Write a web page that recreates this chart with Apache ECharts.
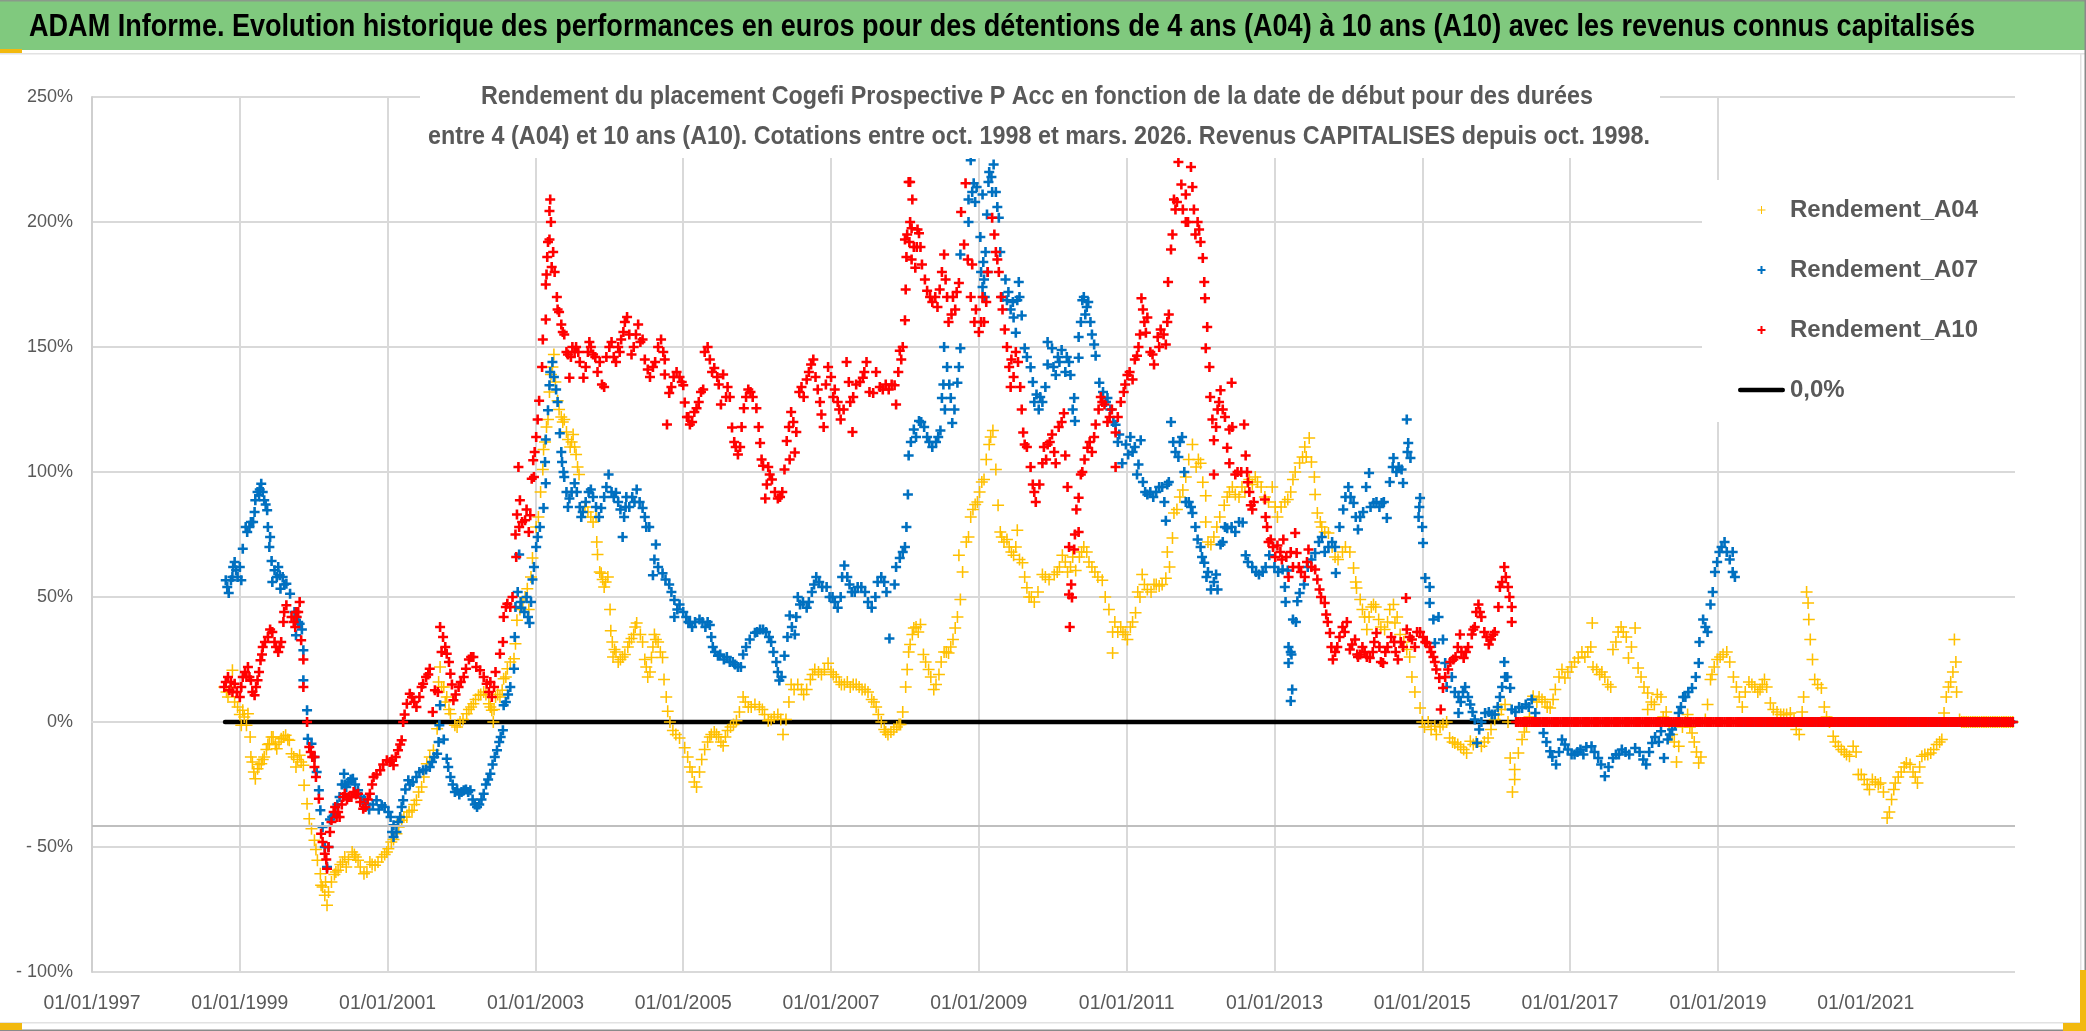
<!DOCTYPE html>
<html><head><meta charset="utf-8"><style>html,body{margin:0;padding:0;background:#fff}#c{width:2086px;height:1031px}</style>
<script src="https://cdn.jsdelivr.net/npm/echarts@6/dist/echarts.min.js"></script></head><body><div id="c"></div>
<script>
const tickYears=[1997,1999,2001,2003,2005,2007,2009,2011,2013,2015,2017,2019,2021];
const a04=[[1998.79,14],[1998.84,10],[1998.9,20.7],[1998.97,6],[1999.04,4.7],[1999.02,-1.3],[1999.11,3.3],[1999.09,-1.3],[1999.14,-6],[1999.15,-14],[1999.21,-22.7],[1999.24,-18.7],[1999.29,-16.7],[1999.33,-14],[1999.4,-8.7],[1999.45,-6],[1999.5,-10.7],[1999.56,-6.7],[1999.62,-5.3],[1999.67,-7.3],[1999.7,-12.7],[1999.76,-18],[1999.81,-13.3],[1999.86,-17.3],[1999.87,-25.3],[1999.91,-32.7],[1999.94,-38.7],[1999.97,-42.7],[2000.01,-47.3],[2000.05,-55.3],[2000.09,-60.7],[2000.1,-65.3],[2000.15,-69.3],[2000.18,-73.3],[2000.24,-64],[2000.33,-59.3],[2000.42,-54],[2000.44,-58],[2000.52,-52],[2000.6,-55.3],[2000.68,-60.7],[2000.76,-56],[2000.83,-57.3],[2000.92,-54],[2001.01,-50.7],[2001.05,-48],[2001.12,-44.7],[2001.19,-39.3],[2001.26,-38],[2001.33,-35.3],[2001.39,-31.3],[2001.46,-26],[2001.53,-16.7],[2001.62,-11.3],[2001.67,-2.7],[2001.71,22],[2001.76,14],[2001.8,10],[2001.85,3.3],[2001.91,-1.3],[2001.98,0],[2002.07,3.3],[2002.16,7.3],[2002.23,10.7],[2002.3,12],[2002.37,7.3],[2002.41,4.7],[2002.43,0],[2002.46,10],[2002.55,12.7],[2002.57,17.3],[2002.62,21.3],[2002.71,25.3],[2002.73,31.3],[2002.75,40.7],[2002.89,53.3],[2002.94,58],[2002.96,65.6],[2003.01,78],[2003.1,101],[2003.11,109],[2003.17,121],[2003.21,139],[2003.25,147],[2003.3,128.5],[2003.35,122],[2003.39,121],[2003.44,113],[2003.51,115],[2003.55,107],[2003.59,99],[2003.71,84],[2003.82,82],[2003.83,72],[2003.84,67],[2003.89,59.5],[2003.98,58],[2003.93,54],[2004.01,45],[2004.02,36.5],[2004.07,29],[2004.12,24],[2004.21,27],[2004.3,33.4],[2004.37,39.6],[2004.45,32],[2004.48,25],[2004.52,18],[2004.57,25.8],[2004.61,35],[2004.66,32],[2004.72,25.8],[2004.74,17],[2004.79,4.3],[2004.86,-3.4],[2004.95,-6.4],[2005.02,-10.3],[2005.06,-14],[2005.12,-20],[2005.18,-26],[2005.29,-11],[2005.38,-5],[2005.45,-5],[2005.54,-9.5],[2005.6,-3.4],[2005.72,0.5],[2005.81,10],[2005.88,6],[2006.03,6],[2006.15,0.5],[2006.28,3],[2006.35,-5],[2006.39,1],[2006.46,15],[2006.55,15],[2006.67,13],[2006.78,21],[2006.87,19],[2006.96,23.5],[2007.07,18],[2007.18,15],[2007.34,15],[2007.5,12],[2007.61,6],[2007.68,0],[2007.77,-5],[2007.89,-2],[2007.94,-1],[2008.01,14],[2008.03,21],[2008.07,31],[2008.12,37.6],[2008.21,39],[2008.25,27],[2008.32,21],[2008.39,13],[2008.46,19],[2008.53,28],[2008.59,27.6],[2008.68,37.6],[2008.75,49],[2008.73,66.7],[2008.86,74],[2008.89,82],[2008.98,88],[2009.07,97],[2009.14,111],[2009.19,116.6],[2009.23,101],[2009.26,86.7],[2009.29,76],[2009.38,73],[2009.52,76.7],[2009.47,66.7],[2009.59,63.7],[2009.65,53.7],[2009.75,48],[2009.86,59],[2010.02,59],[2010.13,66.7],[2010.31,60.6],[2010.42,70],[2010.53,62],[2010.67,56.7],[2010.76,45],[2010.81,36],[2010.81,27.6],[2010.92,38],[2011.01,33],[2011.12,43.7],[2011.21,59],[2011.28,53],[2011.44,54.4],[2011.53,57.5],[2011.55,68],[2011.62,73.6],[2011.64,83.6],[2011.76,92.8],[2011.89,111],[2012,103.5],[2012.03,95.9],[2012.07,90.5],[2012.07,80],[2012.14,71],[2012.18,74],[2012.32,86.7],[2012.43,94],[2012.47,91],[2012.66,97],[2012.77,96],[2012.97,94],[2013.09,86],[2013.18,89],[2013.25,97],[2013.34,103.6],[2013.43,106],[2013.47,113.6],[2013.5,104],[2013.54,98],[2013.55,91],[2013.58,83.6],[2013.64,78],[2013.73,75.6],[2013.86,65],[2014.02,68],[2014.07,61.6],[2014.11,53.6],[2014.16,49],[2014.22,42],[2014.25,37],[2014.34,47],[2014.41,41],[2014.49,37],[2014.61,47],[2014.63,39.6],[2014.7,35],[2014.79,29],[2014.83,26],[2014.86,18],[2014.9,12],[2014.97,5.6],[2015,0],[2015.17,-1.7],[2015.19,-5],[2015.33,0],[2015.37,-6.4],[2015.44,-8.4],[2015.6,-12.4],[2015.65,-7.7],[2015.8,-9.7],[2015.89,-6.4],[2015.98,1],[2016.12,7],[2016.16,0],[2016.19,-14.4],[2016.25,-19],[2016.25,-23],[2016.22,-28],[2016.3,-12.4],[2016.35,-7],[2016.41,-1.7],[2016.5,10.3],[2016.62,9],[2016.73,5.6],[2016.8,13],[2016.89,21],[2016.93,17.6],[2017.11,25.6],[2017.28,30],[2017.3,39.6],[2017.31,22],[2017.43,20],[2017.55,14],[2017.58,29],[2017.69,38],[2017.76,34],[2017.88,37.6],[2017.79,25.6],[2017.92,21.6],[2018.05,11.6],[2018.05,5],[2018.23,10],[2018.26,2],[2018.47,-9.7],[2018.44,-16],[2018.59,3],[2018.65,-4.4],[2018.74,-16.4],[2018.86,7],[2018.83,1],[2018.9,17],[2018.99,25],[2019.12,28],[2019.21,18],[2019.33,6],[2019.42,16],[2019.57,13],[2019.63,17],[2019.71,7.6],[2019.89,3],[2019.98,3.6],[2020.1,-5],[2020.16,10],[2020.2,52],[2020.22,47.6],[2020.23,41],[2020.25,33],[2020.28,25],[2020.31,17],[2020.4,13.6],[2020.44,6],[2020.51,0],[2020.56,-5.7],[2020.63,-9.7],[2020.78,-13.7],[2020.83,-9.7],[2020.9,-21],[2021.05,-27],[2021.2,-24.4],[2021.29,-38.4],[2021.35,-31],[2021.4,-24.4],[2021.55,-16.4],[2021.7,-24.4],[2021.76,-13.7],[2021.88,-12.4],[2022.03,-7],[2022.06,3.6],[2022.09,10],[2022.18,20],[2022.2,33],[2022.23,12],[2022.27,1]];
const a04More=[[1998.82,12],[1998.87,14],[1998.93,8],[1999,3],[1999.06,2],[1999.17,-16],[1999.19,-20],[1999.26,-17],[1999.31,-15],[1999.36,-11],[1999.38,-9],[1999.43,-6],[1999.48,-9],[1999.53,-8],[1999.59,-6],[1999.65,-7],[1999.73,-14],[1999.78,-15],[1999.83,-16],[2000.03,-51],[2000.12,-66],[2000.16,-64],[2000.2,-68],[2000.28,-61],[2000.3,-60],[2000.36,-57],[2000.39,-56],[2000.47,-55],[2000.55,-53],[2000.57,-54],[2000.63,-58],[2000.72,-60],[2000.79,-57],[2000.87,-56],[2000.96,-53],[2000.99,-52],[2001.08,-47],[2001.15,-42],[2001.22,-38],[2001.29,-36],[2001.36,-33],[2001.42,-28],[2001.49,-22],[2001.57,-14],[2001.69,16],[2001.73,14],[2001.78,8],[2001.83,5],[2001.94,-2],[2002.02,1],[2002.1,5],[2002.13,6],[2002.19,9],[2002.26,11],[2002.33,11],[2002.39,6],[2002.44,5],[2002.49,11],[2002.52,10],[2002.6,18],[2002.66,24],[2002.79,45],[2002.83,48],[2002.86,50],[2002.91,45],[2003.04,82],[2003.07,92],[2003.13,112],[2003.15,118],[2003.19,132],[2003.23,142],[2003.27,136],[2003.32,125],[2003.37,120],[2003.42,116],[2003.47,110],[2003.49,112],[2003.53,110],[2003.57,102],[2003.67,86],[2003.75,82],[2003.78,80],[2003.87,60],[2003.91,57],[2003.95,56],[2004.04,32],[2004.05,26],[2004.09,28],[2004.15,25],[2004.18,26],[2004.25,30],[2004.27,32],[2004.33,35],[2004.35,38],[2004.42,35],[2004.5,22],[2004.55,20],[2004.59,30],[2004.63,33],[2004.69,28],[2004.77,10],[2004.82,0],[2004.9,-5],[2005.09,-18],[2005.15,-24],[2005.22,-20],[2005.25,-15],[2005.33,-8],[2005.36,-6],[2005.42,-4],[2005.48,-6],[2005.51,-8],[2005.57,-6],[2005.64,-2],[2005.68,-1],[2005.76,4],[2005.84,8],[2005.92,6],[2005.97,7],[2006.07,5],[2006.1,3],[2006.19,1],[2006.23,2],[2006.32,1],[2006.43,8],[2006.5,13],[2006.6,13],[2006.63,11],[2006.72,17],[2006.75,19],[2006.83,20],[2006.91,21],[2007,20],[2007.03,19],[2007.11,16],[2007.14,15],[2007.22,16],[2007.26,14],[2007.3,15],[2007.38,14],[2007.42,13],[2007.46,13],[2007.55,9],[2007.58,8],[2007.64,3],[2007.72,-3],[2007.74,-4],[2007.81,-4],[2007.85,-3],[2007.92,-1],[2007.97,4],[2008.05,28],[2008.1,35],[2008.15,38],[2008.18,36],[2008.28,24],[2008.35,18],[2008.42,15],[2008.49,24],[2008.56,28],[2008.62,30],[2008.65,33],[2008.71,42],[2008.78,60],[2008.83,72],[2008.92,85],[2008.95,87],[2009.01,92],[2009.04,96],[2009.1,105],[2009.16,114],[2009.31,74],[2009.34,72],[2009.41,70],[2009.44,68],[2009.5,70],[2009.55,65],[2009.62,58],[2009.68,50],[2009.71,50],[2009.8,52],[2009.9,58],[2009.95,57],[2010.06,60],[2010.09,62],[2010.17,64],[2010.2,60],[2010.24,62],[2010.27,66],[2010.36,66],[2010.39,68],[2010.46,68],[2010.49,64],[2010.57,60],[2010.61,58],[2010.71,50],[2010.84,40],[2010.88,36],[2010.95,36],[2010.98,35],[2011.05,38],[2011.08,40],[2011.15,52],[2011.18,50],[2011.24,55],[2011.33,52],[2011.37,55],[2011.4,55],[2011.48,55],[2011.58,62],[2011.68,85],[2011.72,90],[2011.8,98],[2011.84,105],[2011.94,102],[2011.97,105],[2012.1,72],[2012.22,78],[2012.26,82],[2012.36,90],[2012.39,92],[2012.52,90],[2012.56,94],[2012.6,92],[2012.7,95],[2012.74,98],[2012.82,94],[2012.87,90],[2012.92,88],[2013.01,86],[2013.04,82],[2013.14,88],[2013.22,92],[2013.28,100],[2013.38,106],[2013.41,110],[2013.62,80],[2013.68,76],[2013.78,70],[2013.82,66],[2013.92,68],[2013.96,70],[2014.1,56],[2014.19,45],[2014.28,42],[2014.31,46],[2014.37,46],[2014.44,38],[2014.53,40],[2014.56,45],[2014.66,42],[2014.75,32],[2015.03,-2],[2015.08,0],[2015.12,-3],[2015.24,-2],[2015.28,-1],[2015.41,-8],[2015.48,-9],[2015.52,-10],[2015.56,-11],[2015.69,-9],[2015.73,-8],[2015.84,-8],[2015.93,-3],[2016.03,3],[2016.07,5],[2016.38,-4],[2016.45,2],[2016.55,8],[2016.58,10],[2016.66,8],[2016.69,6],[2016.77,9],[2016.85,18],[2016.97,20],[2017.02,22],[2017.06,24],[2017.16,28],[2017.2,26],[2017.24,28],[2017.36,21],[2017.4,19],[2017.47,18],[2017.51,15],[2017.62,32],[2017.65,36],[2017.72,36],[2017.83,30],[2017.96,18],[2018,14],[2018.1,8],[2018.14,7],[2018.18,11],[2018.3,4],[2018.34,-1],[2018.38,-5],[2018.41,-8],[2018.52,-2],[2018.56,0],[2018.62,-2],[2018.68,-8],[2018.71,-12],[2018.77,-14],[2018.92,19],[2018.95,22],[2019.03,26],[2019.07,27],[2019.16,24],[2019.25,14],[2019.29,10],[2019.37,12],[2019.46,15],[2019.5,14],[2019.54,12],[2019.6,15],[2019.66,14],[2019.75,5],[2019.8,4],[2019.85,3],[2019.93,3],[2020.03,1],[2020.06,-3],[2020.14,4],[2020.35,15],[2020.47,2],[2020.59,-8],[2020.67,-11],[2020.71,-12],[2020.74,-13],[2020.87,-12],[2020.94,-21],[2020.98,-23],[2021.02,-25],[2021.09,-23],[2021.13,-24],[2021.17,-25],[2021.24,-28],[2021.32,-36],[2021.38,-27],[2021.44,-22],[2021.48,-20],[2021.52,-18],[2021.6,-17],[2021.64,-20],[2021.67,-22],[2021.73,-18],[2021.8,-13],[2021.84,-13],[2021.92,-11],[2021.96,-9],[2022,-8],[2022.12,14],[2022.15,16],[2022.22,24]];
const a07=[[1998.81,56.7],[1998.85,51.6],[1998.88,56.7],[1998.91,62],[1998.95,60.7],[1999,62],[1999.02,56.7],[1999.04,69.3],[1999.08,78],[1999.13,78],[1999.18,80],[1999.21,88.7],[1999.26,90.7],[1999.29,95.3],[1999.33,88.7],[1999.37,84.7],[1999.38,78],[1999.41,74],[1999.4,70],[1999.43,64.4],[1999.47,60.7],[1999.44,56],[1999.54,58.7],[1999.58,58],[1999.55,53.3],[1999.63,55.3],[1999.68,51.3],[1999.76,42],[1999.81,39.3],[1999.76,34.7],[1999.86,28.7],[1999.86,16.7],[1999.91,4.7],[1999.92,-6.7],[1999.97,-8.7],[2000.01,-14],[2000.07,-27.3],[2000.09,-35.3],[2000.12,-42],[2000.15,-50],[2000.18,-58],[2000.22,-39],[2000.29,-36.7],[2000.35,-30],[2000.41,-20.7],[2000.44,-26],[2000.53,-22.7],[2000.6,-27.3],[2000.71,-32.7],[2000.85,-31.3],[2000.92,-33.3],[2001.01,-36],[2001.08,-41.3],[2001.08,-46],[2001.17,-38],[2001.21,-31.3],[2001.28,-23.3],[2001.39,-22],[2001.48,-19.3],[2001.57,-18],[2001.67,-12.7],[2001.69,-8],[2001.76,-7],[2001.7,-1.3],[2001.71,6.7],[2001.8,-14.7],[2001.85,-22],[2001.91,-28],[2002.03,-27.3],[2002.12,-27.3],[2002.21,-34],[2002.3,-28.7],[2002.39,-20.7],[2002.48,-11.3],[2002.56,-3.3],[2002.57,6.7],[2002.66,14],[2002.71,21.3],[2002.72,34],[2002.81,45.7],[2002.78,67],[2002.92,39.6],[2002.96,57],[2003.01,70],[2003.03,74],[2003.11,85.6],[2003.14,95.5],[2003.14,113],[2003.17,124.7],[2003.19,134.7],[2003.23,144],[2003.28,133],[2003.33,115.5],[2003.36,104],[2003.39,98],[2003.46,89.4],[2003.53,95.5],[2003.64,84],[2003.75,93],[2003.89,85.6],[2003.99,99],[2004.09,91.7],[2004.18,74],[2004.23,90],[2004.37,93],[2004.45,85.6],[2004.54,78],[2004.63,71],[2004.61,65],[2004.59,58.7],[2004.72,59.5],[2004.81,55],[2004.88,48.8],[2004.88,42],[2005,44],[2005.09,39.6],[2005.22,41],[2005.36,38.8],[2005.4,30],[2005.47,26.5],[2005.63,24],[2005.74,22],[2005.85,30],[2005.97,35.7],[2006.08,37],[2006.19,32],[2006.26,24],[2006.3,16.6],[2006.37,26.5],[2006.44,42.6],[2006.51,35],[2006.55,50],[2006.67,45.7],[2006.8,58],[2006.94,54],[2007.09,45.7],[2007.18,62.6],[2007.28,52],[2007.41,54],[2007.55,45.7],[2007.68,58],[2007.75,52],[2007.79,33.4],[2007.86,55],[2007.93,65.6],[2008,70],[2008.02,78],[2008.04,91],[2008.05,106.6],[2008.12,117],[2008.19,120.4],[2008.26,118],[2008.37,110],[2008.48,116.6],[2008.5,129.6],[2008.53,150],[2008.57,142],[2008.62,129.6],[2008.64,119.6],[2008.71,135.7],[2008.75,149.5],[2008.75,187],[2008.86,200],[2008.86,209],[2008.93,215.5],[2008.89,224.7],[2009.05,211],[2009.14,220],[2009.2,223],[2009.23,212],[2009.11,203],[2009.02,194],[2009.09,188],[2009.27,201.7],[2009.29,188],[2009.07,177],[2009.36,177],[2009.54,176],[2009.38,168.7],[2009.52,168.7],[2009.47,161.8],[2009.58,162.6],[2009.5,155.7],[2009.62,149.5],[2009.7,141.9],[2009.78,131],[2009.81,125],[2009.9,134],[2009.93,152],[2009.99,149.5],[2009.93,143],[2010.04,138.8],[2010.12,148.8],[2010.22,144],[2010.24,138.8],[2010.29,129.6],[2010.3,120.4],[2010.35,154],[2010.35,145.7],[2010.56,151],[2010.58,146.5],[2010.4,168.7],[2010.44,163],[2010.51,160],[2010.63,135.7],[2010.74,129.6],[2010.85,118.9],[2010.99,111],[2010.94,103.5],[2011.05,114],[2011.19,112.7],[2011.14,99],[2011.28,91],[2011.44,94],[2011.57,96],[2011.53,80.5],[2011.6,120],[2011.66,108],[2011.75,114],[2011.8,88],[2011.89,83.6],[2011.96,73],[2012.05,63.7],[2012.14,53],[2012.23,53],[2012.27,71],[2012.36,77.5],[2012.57,79.8],[2012.61,66.7],[2012.79,59],[2012.93,66.7],[2013.11,61],[2013.18,60.6],[2013.15,48],[2013.31,48.3],[2013.29,40],[2013.22,28],[2013.22,8.4],[2013.24,13],[2013.14,54],[2013.25,41],[2013.19,30],[2013.23,27],[2013.19,23.6],[2013.34,51.6],[2013.55,67.6],[2013.64,74],[2013.73,70],[2013.82,70],[2013.83,59.6],[2013.88,78],[2013.93,85],[2014,94],[2014.07,87.6],[2014.13,77],[2014.2,84],[2014.28,99.6],[2014.34,87.6],[2014.45,87.6],[2014.52,81.6],[2014.56,96],[2014.61,105.6],[2014.72,101],[2014.74,95.6],[2014.79,121],[2014.81,111.6],[2014.84,105.6],[2014.97,89.6],[2014.95,82],[2015.01,71.6],[2015.04,57.6],[2015.1,54],[2015.1,47.6],[2015.15,41],[2015.22,42],[2015.17,31.6],[2015.28,33],[2015.31,23.6],[2015.4,18],[2015.33,14],[2015.49,10],[2015.58,14],[2015.49,3.6],[2015.65,7],[2015.71,1],[2015.74,-8.4],[2015.85,3.6],[2015.98,3],[2016.05,10],[2016.11,24],[2016.12,18],[2016.19,13.6],[2016.21,5],[2016.35,5.6],[2016.48,9],[2016.53,3.6],[2016.64,-4.4],[2016.73,-11.7],[2016.81,-17],[2016.89,-7],[2017.02,-13],[2017.14,-11],[2017.29,-9.7],[2017.38,-14.4],[2017.47,-21.7],[2017.58,-14.4],[2017.7,-11],[2017.88,-10.4],[2018.03,-17],[2018.11,-8.4],[2018.23,-3.7],[2018.27,-14.4],[2018.38,-3],[2018.47,3.6],[2018.53,10],[2018.65,13.6],[2018.74,23.6],[2018.75,32],[2018.86,36],[2018.8,41],[2018.9,47],[2018.96,60],[2019.02,68],[2019.09,72],[2019.16,65],[2019.23,58]];
const a07More=[[1998.83,54],[1998.9,58],[1998.93,64],[1998.97,58],[1999.1,76],[1999.15,80],[1999.2,84],[1999.24,92],[1999.27,93],[1999.31,92],[1999.35,87],[1999.5,58],[1999.52,62],[1999.6,55],[1999.79,40],[1999.74,44],[1999.84,37],[2000.04,-20],[2000.2,-50],[2000.25,-38],[2000.32,-33],[2000.38,-25],[2000.42,-25],[2000.47,-24],[2000.5,-23],[2000.56,-25],[2000.64,-30],[2000.68,-31],[2000.75,-35],[2000.8,-33],[2000.88,-35],[2000.96,-34],[2001.04,-38],[2001.06,-44],[2001.12,-44],[2001.14,-40],[2001.19,-34],[2001.24,-27],[2001.3,-25],[2001.34,-24],[2001.43,-20],[2001.52,-19],[2001.6,-16],[2001.63,-14],[2001.82,-18],[2001.88,-25],[2001.94,-27],[2001.97,-29],[2002,-28],[2002.06,-27],[2002.09,-28],[2002.15,-31],[2002.18,-33],[2002.24,-33],[2002.27,-31],[2002.33,-25],[2002.36,-23],[2002.42,-17],[2002.45,-14],[2002.51,-8],[2002.53,-6],[2002.6,8],[2002.63,11],[2002.73,46],[2002.76,52],[2002.8,48],[2002.85,44],[2002.88,50],[2002.9,42],[2002.94,48],[2002.98,62],[2003.06,78],[2003.13,104],[2003.2,140],[2003.25,138],[2003.3,128],[2003.35,108],[2003.38,100],[2003.42,92],[2003.44,86],[2003.49,92],[2003.56,92],[2003.6,86],[2003.62,82],[2003.68,88],[2003.72,92],[2003.78,90],[2003.82,86],[2003.86,82],[2003.93,90],[2003.96,94],[2004.03,92],[2004.06,90],[2004.12,88],[2004.15,85],[2004.2,82],[2004.22,86],[2004.27,86],[2004.31,90],[2004.34,88],[2004.41,88],[2004.48,82],[2004.5,78],[2004.66,62],[2004.76,57],[2004.84,52],[2004.92,45],[2004.95,47],[2005.04,42],[2005.07,40],[2005.12,38],[2005.16,40],[2005.26,40],[2005.3,38],[2005.33,40],[2005.38,34],[2005.43,28],[2005.5,27],[2005.55,25],[2005.59,26],[2005.67,24],[2005.7,23],[2005.78,22],[2005.81,27],[2005.9,33],[2006,36],[2006.04,37],[2006.12,36],[2006.16,34],[2006.22,28],[2006.28,20],[2006.33,18],[2006.41,34],[2006.47,38],[2006.53,42],[2006.58,47],[2006.62,48],[2006.7,48],[2006.74,52],[2006.77,55],[2006.84,56],[2006.88,54],[2006.98,50],[2007.02,50],[2007.05,48],[2007.13,50],[2007.15,58],[2007.22,58],[2007.25,55],[2007.32,52],[2007.36,54],[2007.46,52],[2007.5,48],[2007.6,50],[2007.63,56],[2007.72,56],[2007.88,62],[2007.97,68],[2008.08,112],[2008.15,114],[2008.22,120],[2008.3,114],[2008.33,112],[2008.42,112],[2008.45,114],[2008.52,135],[2008.54,125],[2008.6,135],[2008.67,125],[2008.73,142],[2008.91,212],[2008.95,208],[2008.97,214],[2009.13,216],[2009.17,218],[2009.18,212],[2009.25,206],[2009.06,184],[2009.08,170],[2009.12,180],[2009.03,180],[2009.05,174],[2009.32,170],[2009.4,172],[2009.43,165],[2009.46,168],[2009.55,170],[2009.65,146],[2009.73,136],[2009.75,128],[2009.83,130],[2009.86,128],[2010.01,142],[2010.07,146],[2010.09,144],[2010.17,140],[2010.19,146],[2010.27,125],[2010.38,160],[2010.42,170],[2010.46,166],[2010.48,168],[2010.53,155],[2010.68,132],[2010.72,128],[2010.78,125],[2010.82,120],[2010.88,112],[2010.9,115],[2011.02,107],[2011.08,108],[2011.11,110],[2011.16,103],[2011.22,96],[2011.25,92],[2011.32,92],[2011.36,90],[2011.4,92],[2011.48,94],[2011.51,88],[2011.55,95],[2011.63,112],[2011.7,106],[2011.72,112],[2011.78,100],[2011.84,88],[2011.87,86],[2011.93,78],[2012,70],[2012.02,66],[2012.08,58],[2012.1,60],[2012.18,56],[2012.21,59],[2012.3,72],[2012.33,78],[2012.42,78],[2012.47,76],[2012.52,80],[2012.64,64],[2012.7,62],[2012.75,60],[2012.84,60],[2012.88,62],[2013,62],[2013.05,60],[2013.4,55],[2013.45,62],[2013.5,65],[2013.6,72],[2013.68,68],[2013.78,72],[2013.96,90],[2014.03,90],[2014.1,82],[2014.16,82],[2014.24,94],[2014.3,86],[2014.38,88],[2014.42,86],[2014.48,88],[2014.6,102],[2014.65,100],[2014.68,102],[2014.8,108],[2014.96,86],[2015,78],[2015.44,12],[2015.52,8],[2015.55,12],[2015.62,10],[2015.68,4],[2015.77,-3],[2015.8,0],[2015.9,4],[2015.94,3],[2016.02,6],[2016.08,14],[2016.15,18],[2016.26,4],[2016.31,6],[2016.4,7],[2016.44,6],[2016.58,0],[2016.68,-8],[2016.76,-14],[2016.85,-12],[2016.93,-9],[2016.97,-11],[2017.06,-13],[2017.1,-12],[2017.18,-13],[2017.22,-10],[2017.33,-12],[2017.42,-17],[2017.52,-18],[2017.62,-13],[2017.66,-13],[2017.75,-12],[2017.8,-13],[2017.94,-12],[2017.99,-15],[2018.07,-12],[2018.15,-6],[2018.2,-8],[2018.32,-7],[2018.35,-5],[2018.42,-1],[2018.5,6],[2018.56,10],[2018.6,12],[2018.7,18],[2018.83,38],[2018.93,52],[2018.99,64],[2019.05,70],[2019.12,68],[2019.2,60],[2019.2,68]];
const a10=[[1998.79,14],[1998.84,18],[1998.86,12.7],[1998.93,15.3],[1999,10],[1999.04,18],[1999.11,22],[1999.15,16.7],[1999.2,10.7],[1999.24,16.7],[1999.28,24.7],[1999.31,30],[1999.38,34],[1999.44,36],[1999.49,30],[1999.56,32],[1999.59,40],[1999.63,46.7],[1999.73,40],[1999.81,48],[1999.77,42],[1999.83,32.7],[1999.86,25],[1999.86,14],[1999.91,0],[1999.94,-10],[2000.01,-14],[2000.01,-18],[2000.07,-30.7],[2000.1,-44.7],[2000.15,-52.7],[2000.18,-58.7],[2000.24,-40],[2000.29,-34],[2000.35,-38],[2000.42,-28.7],[2000.51,-30],[2000.6,-28.7],[2000.67,-34.7],[2000.76,-28.7],[2000.81,-22],[2000.9,-19.3],[2000.99,-15.3],[2001.08,-17.3],[2001.14,-11.3],[2001.19,-7.3],[2001.21,0],[2001.26,7.3],[2001.3,11.3],[2001.39,6],[2001.48,15.3],[2001.57,21.3],[2001.61,4],[2001.64,12.7],[2001.71,38],[2001.75,34],[2001.8,27.3],[2001.85,19.3],[2001.89,8.7],[2001.96,14],[2002.06,21.3],[2002.16,26],[2002.25,20.7],[2002.34,15.3],[2002.41,10],[2002.46,20],[2002.52,27.3],[2002.56,32],[2002.57,42],[2002.62,47.3],[2002.73,75],[2002.77,102],[2002.79,88.7],[2002.75,83],[2002.86,80.7],[2002.93,82.7],[2002.95,97.3],[2002.97,104.7],[2003.01,114],[2003.03,121],[2003.05,128.5],[2003.1,153],[2003.09,142],[2003.14,161],[2003.15,179],[2003.14,175],[2003.19,204.4],[2003.2,209],[2003.19,193],[2003.24,188],[2003.26,180],[2003.3,165],[2003.35,159],[2003.39,155],[2003.46,137.7],[2003.44,147],[2003.55,150],[2003.65,137.7],[2003.75,150],[2003.87,144],[2003.93,134],[2004,150],[2004.09,144],[2004.16,153],[2004.24,162],[2004.3,147],[2004.39,159],[2004.45,153],[2004.52,141],[2004.59,142],[2004.7,153],[2004.75,145],[2004.75,139],[2004.78,119],[2004.81,131.6],[2004.91,140],[2005,134.7],[2005.02,127.8],[2005.09,119],[2005.18,125.5],[2005.27,133],[2005.33,150],[2005.42,141.6],[2005.54,139],[2005.51,127],[2005.63,130],[2005.66,117.8],[2005.74,107],[2005.82,125.5],[2005.88,133],[2005.99,125.5],[2006.04,111.6],[2006.08,102.5],[2006.11,89.4],[2006.17,99],[2006.28,89.4],[2006.37,101],[2006.4,112.4],[2006.46,124],[2006.51,107.8],[2006.57,132],[2006.67,137],[2006.76,145],[2006.82,133],[2006.87,123],[2006.96,142],[2007.05,133],[2007.13,121],[2007.21,144],[2007.29,116],[2007.3,130],[2007.43,137.7],[2007.48,144],[2007.57,131.6],[2007.61,140],[2007.7,133],[2007.86,134.7],[2007.88,127],[2007.93,148.5],[2007.95,145],[2008,160.7],[2008.01,173],[2008.02,186],[2008.07,216],[2008.09,197.5],[2008.16,190],[2008.05,216],[2008.1,209],[2008.07,200],[2008,193],[2008.19,195.5],[2008.14,181.7],[2008.23,183],[2008.3,172.5],[2008.44,166],[2008.53,187],[2008.55,177],[2008.59,160],[2008.68,165],[2008.73,175.6],[2008.76,204],[2008.8,191],[2008.82,215.5],[2008.91,183],[2008.89,170],[2009,156],[2009.1,168],[2009.07,160],[2009.18,201.7],[2009.23,188],[2009.27,180],[2009.35,157],[2009.41,142],[2009.5,148],[2009.43,134],[2009.56,134],[2009.6,115.8],[2009.62,111],[2009.7,102],[2009.77,88],[2009.86,103.5],[2009.93,111],[2009.99,115],[2010.04,103.5],[2010.15,123.5],[2010.17,106.6],[2010.2,94],[2010.22,70],[2010.29,69],[2010.22,51],[2010.26,49.8],[2010.23,38],[2010.35,89.7],[2010.35,76],[2010.38,99],[2010.47,109.7],[2010.58,119],[2010.56,114],[2010.67,128],[2010.74,120],[2010.85,102],[2010.85,115.8],[2010.92,128],[2011.01,138.8],[2011.08,137],[2011.14,146.5],[2011.2,169.5],[2011.28,161.8],[2011.26,155.7],[2011.37,143],[2011.46,157],[2011.53,151],[2011.57,163],[2011.56,176],[2011.6,189],[2011.64,209],[2011.7,224],[2011.8,211],[2011.8,200],[2011.87,222],[2011.89,214],[2011.96,200],[2012,192],[2012.03,185.6],[2012.05,176],[2012.06,169.5],[2012.09,158],[2012.07,149.5],[2012.12,142],[2012.13,130],[2012.16,121],[2012.18,112.7],[2012.18,99],[2012.27,132.7],[2012.3,125],[2012.42,135.7],[2012.39,117],[2012.36,109.7],[2012.39,103.5],[2012.47,99],[2012.59,119],[2012.61,106.6],[2012.64,95.9],[2012.68,86.7],[2012.87,89],[2012.88,82],[2012.95,73],[2013.04,70.6],[2013.12,73],[2013.19,58],[2013.28,75.6],[2013.3,67.6],[2013.41,58],[2013.46,69],[2013.55,61],[2013.61,53],[2013.68,47.6],[2013.7,43],[2013.75,35.6],[2013.79,25],[2013.88,34],[2013.98,40],[2014.02,29],[2014.09,33],[2014.13,26],[2014.22,28],[2014.29,25.6],[2014.38,35.6],[2014.47,23.6],[2014.58,34],[2014.67,25],[2014.78,49.6],[2014.79,37],[2014.86,33],[2014.97,36],[2015.06,31.6],[2015.15,26],[2015.19,21],[2015.23,17.6],[2015.28,13.6],[2015.25,5],[2015.35,21],[2015.42,25],[2015.51,35],[2015.56,25.6],[2015.67,35],[2015.71,38],[2015.76,47],[2015.8,42],[2015.9,31],[2015.98,36],[2016.03,46],[2016.05,54],[2016.11,62],[2016.16,54],[2016.21,46],[2016.21,40]];
const a10More=[[1998.81,16],[1998.88,16],[1998.9,12],[1998.96,12],[1999.02,14],[1999.07,20],[1999.09,18],[1999.13,18],[1999.17,12],[1999.22,14],[1999.26,20],[1999.3,27],[1999.34,32],[1999.41,37],[1999.47,32],[1999.52,28],[1999.54,30],[1999.6,44],[1999.7,42],[1999.75,38],[1999.76,44],[1999.79,44],[1999.96,-12],[1999.98,-14],[2000.03,-22],[2000.12,-48],[2000.17,-55],[2000.2,-50],[2000.22,-44],[2000.27,-36],[2000.31,-38],[2000.33,-36],[2000.38,-33],[2000.4,-30],[2000.45,-31],[2000.48,-30],[2000.54,-28],[2000.57,-29],[2000.63,-32],[2000.7,-34],[2000.73,-31],[2000.79,-25],[2000.85,-21],[2000.94,-17],[2001.03,-16],[2001.06,-15],[2001.11,-14],[2001.17,-9],[2001.23,3],[2001.33,10],[2001.36,8],[2001.43,10],[2001.46,14],[2001.52,18],[2001.55,19],[2001.68,12],[2001.73,28],[2001.78,30],[2001.83,24],[2001.87,15],[2001.92,11],[2001.99,16],[2002.03,18],[2002.1,25],[2002.13,26],[2002.2,22],[2002.3,18],[2002.37,12],[2002.39,16],[2002.44,14],[2002.6,46],[2002.66,46],[2002.69,50],[2002.74,66],[2002.78,78],[2002.82,80],[2002.88,85],[2002.91,76],[2002.98,98],[2002.99,108],[2003.16,186],[2003.17,192],[2003.21,200],[2003.22,182],[2003.29,170],[2003.32,164],[2003.37,156],[2003.42,148],[2003.48,146],[2003.5,150],[2003.53,148],[2003.58,148],[2003.6,144],[2003.68,142],[2003.71,148],[2003.73,152],[2003.78,147],[2003.81,146],[2003.84,140],[2003.9,135],[2003.96,146],[2004.03,152],[2004.06,146],[2004.12,150],[2004.14,148],[2004.19,156],[2004.21,160],[2004.27,155],[2004.33,150],[2004.36,155],[2004.42,152],[2004.48,145],[2004.55,138],[2004.62,144],[2004.66,150],[2004.73,148],[2004.84,134],[2004.87,138],[2004.95,138],[2004.98,136],[2005.05,122],[2005.07,122],[2005.12,120],[2005.15,124],[2005.21,128],[2005.24,132],[2005.29,148],[2005.36,145],[2005.39,140],[2005.46,138],[2005.48,135],[2005.58,130],[2005.6,134],[2005.69,112],[2005.71,110],[2005.77,110],[2005.79,118],[2005.85,130],[2005.91,132],[2005.94,130],[2006.02,118],[2006.06,105],[2006.13,95],[2006.15,102],[2006.2,97],[2006.24,92],[2006.31,90],[2006.34,92],[2006.43,118],[2006.44,105],[2006.49,120],[2006.53,116],[2006.6,134],[2006.63,130],[2006.7,140],[2006.73,143],[2006.79,138],[2006.85,128],[2006.9,118],[2006.93,135],[2007,138],[2007.03,130],[2007.09,128],[2007.11,125],[2007.17,125],[2007.24,136],[2007.26,128],[2007.34,135],[2007.39,136],[2007.45,140],[2007.52,132],[2007.66,134],[2007.74,135],[2007.78,133],[2007.82,135],[2007.91,140],[2007.97,150],[2008.03,195],[2008.06,192],[2008.09,185],[2008.12,190],[2008.17,197],[2008.21,190],[2008.27,177],[2008.34,170],[2008.37,168],[2008.41,170],[2008.47,173],[2008.5,180],[2008.57,170],[2008.63,163],[2008.65,170],[2008.7,172],[2008.85,185],[2008.94,160],[2008.96,165],[2009.03,160],[2009.05,170],[2009.12,180],[2009.21,195],[2009.25,185],[2009.3,170],[2009.32,165],[2009.38,150],[2009.44,145],[2009.47,138],[2009.53,144],[2009.58,125],[2009.65,110],[2009.73,95],[2009.75,92],[2009.82,95],[2009.88,110],[2009.91,105],[2009.96,112],[2010.02,108],[2010.08,118],[2010.12,120],[2010.25,55],[2010.3,75],[2010.32,85],[2010.4,100],[2010.43,105],[2010.5,112],[2010.53,108],[2010.62,125],[2010.65,130],[2010.7,127],[2010.77,122],[2010.8,125],[2010.88,122],[2010.96,132],[2010.98,135],[2011.04,140],[2011.11,145],[2011.16,150],[2011.18,155],[2011.22,165],[2011.24,160],[2011.32,148],[2011.35,147],[2011.42,154],[2011.44,150],[2011.5,155],[2011.55,160],[2011.62,195],[2011.66,205],[2011.68,208],[2011.74,215],[2011.76,205],[2011.83,200],[2011.91,205],[2011.93,195],[2011.98,197],[2012.21,118],[2012.23,125],[2012.25,128],[2012.33,122],[2012.43,118],[2012.5,100],[2012.55,100],[2012.63,100],[2012.66,92],[2012.7,85],[2012.72,88],[2012.9,78],[2012.92,72],[2012.98,70],[2013.01,66],[2013.08,68],[2013.1,65],[2013.16,66],[2013.22,68],[2013.25,62],[2013.33,62],[2013.36,60],[2013.44,64],[2013.5,62],[2013.58,57],[2013.63,50],[2013.72,40],[2013.77,30],[2013.82,28],[2013.85,30],[2013.92,38],[2013.95,36],[2014.05,31],[2014.12,27],[2014.16,27],[2014.19,30],[2014.25,26],[2014.33,28],[2014.35,32],[2014.42,30],[2014.44,24],[2014.5,28],[2014.53,30],[2014.62,32],[2014.64,28],[2014.71,32],[2014.74,30],[2014.83,34],[2014.9,30],[2014.93,36],[2015.01,34],[2015.04,32],[2015.1,30],[2015.12,28],[2015.17,24],[2015.31,18],[2015.38,24],[2015.45,26],[2015.48,30],[2015.53,28],[2015.59,28],[2015.62,30],[2015.69,37],[2015.73,44],[2015.78,44],[2015.84,36],[2015.87,34],[2015.93,33],[2015.96,35],[2016.08,56],[2016.13,58],[2016.18,50]];
const zeroDates=[2016.27,2016.30,2016.33,2016.36,2016.39,2016.42,2016.45,2016.48,2016.51,2016.54,2016.57,2016.60,2016.63,2016.66,2016.69,2016.72,2016.75,2016.78,2016.81,2016.84,2016.87,2016.90,2016.93,2016.96,2016.99,2017.02,2017.05,2017.08,2017.11,2017.14,2017.17,2017.20,2017.23,2017.26,2017.29,2017.32,2017.35,2017.38,2017.41,2017.44,2017.47,2017.50,2017.53,2017.56,2017.59,2017.62,2017.65,2017.68,2017.71,2017.74,2017.77,2017.80,2017.83,2017.86,2017.89,2017.92,2017.95,2017.98,2018.01,2018.04,2018.07,2018.10,2018.13,2018.16,2018.19,2018.22,2018.25,2018.28,2018.31,2018.34,2018.37,2018.40,2018.43,2018.46,2018.49,2018.52,2018.55,2018.58,2018.61,2018.64,2018.67,2018.70,2018.73,2018.76,2018.79,2018.82,2018.85,2018.88,2018.91,2018.94,2018.97,2019.00,2019.03,2019.06,2019.09,2019.12,2019.15,2019.18,2019.21,2019.24,2019.27,2019.30,2019.33,2019.36,2019.39,2019.42,2019.45,2019.48,2019.51,2019.54,2019.57,2019.60,2019.63,2019.66,2019.69,2019.72,2019.75,2019.78,2019.81,2019.84,2019.87,2019.90,2019.93,2019.96,2019.99,2020.02,2020.05,2020.08,2020.11,2020.14,2020.17,2020.20,2020.23,2020.26,2020.29,2020.32,2020.35,2020.38,2020.41,2020.44,2020.47,2020.50,2020.53,2020.56,2020.59,2020.62,2020.65,2020.68,2020.71,2020.74,2020.77,2020.80,2020.83,2020.86,2020.89,2020.92,2020.95,2020.98,2021.01,2021.04,2021.07,2021.10,2021.13,2021.16,2021.19,2021.22,2021.25,2021.28,2021.31,2021.34,2021.37,2021.40,2021.43,2021.46,2021.49,2021.52,2021.55,2021.58,2021.61,2021.64,2021.67,2021.70,2021.73,2021.76,2021.79,2021.82,2021.85,2021.88,2021.91,2021.94,2021.97,2022.00,2022.03,2022.06,2022.09,2022.12,2022.15,2022.18,2022.21,2022.24,2022.27,2022.30,2022.33,2022.36,2022.39,2022.42,2022.45,2022.48,2022.51,2022.54,2022.57,2022.60,2022.63,2022.66,2022.69,2022.72,2022.75,2022.78,2022.81,2022.84,2022.87,2022.90,2022.93,2022.96,2022.99];
const a07Start=2019.25, a04Start=2022.28;
const zeroLine=[[1998.8,0],[2022.99,0]];
const axisFloor=-41.6;
const mainTitle="ADAM Informe. Evolution historique des performances en euros pour des détentions de 4 ans (A04) à 10 ans (A10) avec les revenus connus capitalisés";
const subLine1="Rendement du placement Cogefi Prospective P Acc en fonction de la date de début pour des durées";
const subLine2="entre 4 (A04) et 10 ans (A10). Cotations entre oct. 1998 et mars. 2026. Revenus CAPITALISES depuis oct. 1998.";
const SANS='"Liberation Sans",Arial,sans-serif';
const GREY='#595959';
const plusThick='path://M3.7 0h2.6v3.7h3.7v2.6h-3.7v3.7h-2.6v-3.7h-3.7v-2.6h3.7z';
const plusThin='path://M4.35 0h1.3v4.35h4.35v1.3h-4.35v4.35h-1.3v-4.35h-4.35v-1.3h4.35z';
const legendThick='path://M0 0h.01v.01zM47 16h.01v.01zM22.5 4h2v3h3v2h-3v3h-2v-3h-3v-2h3z';
const legendThin='path://M0 0h.01v.01zM47 16h.01v.01zM23 4h1v3.5h3.5v1h-3.5v3.5h-1v-3.5h-3.5v-1h3.5z';
const legendBar='path://M0 0h.01v.01zM47 16h.01v.01zM2 5.8h43a2.2 2.2 0 0 1 0 4.4h-43a2.2 2.2 0 0 1 0-4.4z';
const zeros=(from)=>zeroDates.filter(d=>d>=from).map(d=>[d,0]);
const measure=document.createElement('canvas').getContext('2d');
const fitScale=(text,font,width)=>{measure.font=font;return width/measure.measureText(text).width;};
const headFont='bold 31px '+SANS, subFont='bold 25px '+SANS;
const textEl=(text,font,fill,x,y,width,align)=>({type:'text',silent:true,z:30,x,y,scaleX:fitScale(text,font,width),style:{text,font,fill,align:align,verticalAlign:'middle'}});
const chart=echarts.init(document.getElementById('c'),null,{renderer:'canvas'});
const scatter=(name,color,data,sym,size,z)=>({name,type:'scatter',data,symbol:sym,symbolSize:size,z,itemStyle:{color,opacity:1},emphasis:{disabled:true},silent:true,large:false,clip:false,animation:false,progressive:0});
chart.setOption({
 animation:false,backgroundColor:'#fff',
 grid:{left:92,right:71,top:97,bottom:59},
 xAxis:{type:'value',min:1997,max:2023.02,
  axisLine:{show:true,lineStyle:{color:'#D9D9D9',width:2}},
  axisTick:{show:false,customValues:tickYears},
  axisLabel:{customValues:tickYears,formatter:v=>'01/01/'+v,color:GREY,fontFamily:SANS,fontSize:19.4,margin:22},
  splitLine:{show:true,showMinLine:true,showMaxLine:false,lineStyle:{color:'#D9D9D9',width:2}}},
 yAxis:{type:'value',min:-100,max:250,interval:50,
  axisLine:{show:true,onZero:false,lineStyle:{color:'#CFCFCF',width:2}},axisTick:{show:false},
  axisLabel:{formatter:v=>v<0?'- '+(-v)+'%':v+'%',color:GREY,fontFamily:SANS,fontSize:18,margin:19},
  splitLine:{lineStyle:{color:'#D9D9D9',width:2}}},
 legend:{orient:'vertical',left:1702,top:180,backgroundColor:'#fff',padding:[18,38,20,36],itemWidth:47,itemHeight:16,itemGap:36,z:7,
  selectedMode:false,textStyle:{fontFamily:SANS,fontWeight:'bold',fontSize:24,color:GREY},
  data:[{name:'Rendement_A04',icon:legendThin},{name:'Rendement_A07',icon:legendThick},{name:'Rendement_A10',icon:legendThick},{name:'0,0%',icon:legendBar}]},
 graphic:[
  {type:'rect',silent:true,z:-10,shape:{x:0,y:0,width:2086,height:50},style:{fill:'#80C97E'}},
  {type:'rect',silent:true,z:-9,shape:{x:0,y:0,width:2086,height:1.5},style:{fill:'#8A9A8A'}},
  {type:'rect',silent:true,z:-9,shape:{x:0,y:53,width:2086,height:1.5},style:{fill:'#E2E2E2'}},
  {type:'rect',silent:true,z:-9,shape:{x:0,y:49,width:22,height:4},style:{fill:'#F2B90F'}},
  {type:'rect',silent:true,z:-9,shape:{x:0,y:1022,width:2086,height:1.5},style:{fill:'#E2E2E2'}},
  {type:'rect',silent:true,z:-9,shape:{x:0,y:1029.5,width:2086,height:1.5},style:{fill:'#8A8A8A'}},
  {type:'rect',silent:true,z:-9,shape:{x:2080,y:54,width:1.5,height:970},style:{fill:'#E2E2E2'}},
  {type:'rect',silent:true,z:-9,shape:{x:2084.5,y:0,width:1.5,height:1031},style:{fill:'#8A8A8A'}},
  {type:'rect',silent:true,z:-8,shape:{x:0,y:1023,width:22,height:7},style:{fill:'#F2B90F'}},
  {type:'rect',silent:true,z:-8,shape:{x:2063,y:1023,width:23,height:8},style:{fill:'#F2B90F'}},
  {type:'rect',silent:true,z:-8,shape:{x:2080,y:970,width:6,height:61},style:{fill:'#F2B90F'}},
  {type:'rect',silent:true,z:29,shape:{x:420,y:60,width:1240,height:98},style:{fill:'#fff'}},
  textEl(mainTitle,headFont,'#000',29,27,1946,'left'),
  textEl(subLine1,subFont,GREY,1037,97,1112,'center'),
  textEl(subLine2,subFont,GREY,1039,137,1222,'center')
 ],
 series:[
  {name:'0,0%',type:'line',data:zeroLine,symbol:'none',z:1,silent:true,lineStyle:{color:'#000',width:4.5,cap:'round'},itemStyle:{color:'#000'},
   markLine:{silent:true,symbol:'none',label:{show:false},lineStyle:{color:'#BFBFBF',width:2,type:'solid'},data:[{yAxis:axisFloor}]}},
  scatter('Rendement_A04','#FFC000',a04.concat(a04More,zeros(a04Start)),plusThin,12,2),
  scatter('Rendement_A07','#0070C0',a07.concat(a07More,zeros(a07Start)),plusThick,10,3),
  scatter('Rendement_A10','#FF0000',a10.concat(a10More,zeros(2016.27)),plusThick,10,4)
 ]
});
</script></body></html>
